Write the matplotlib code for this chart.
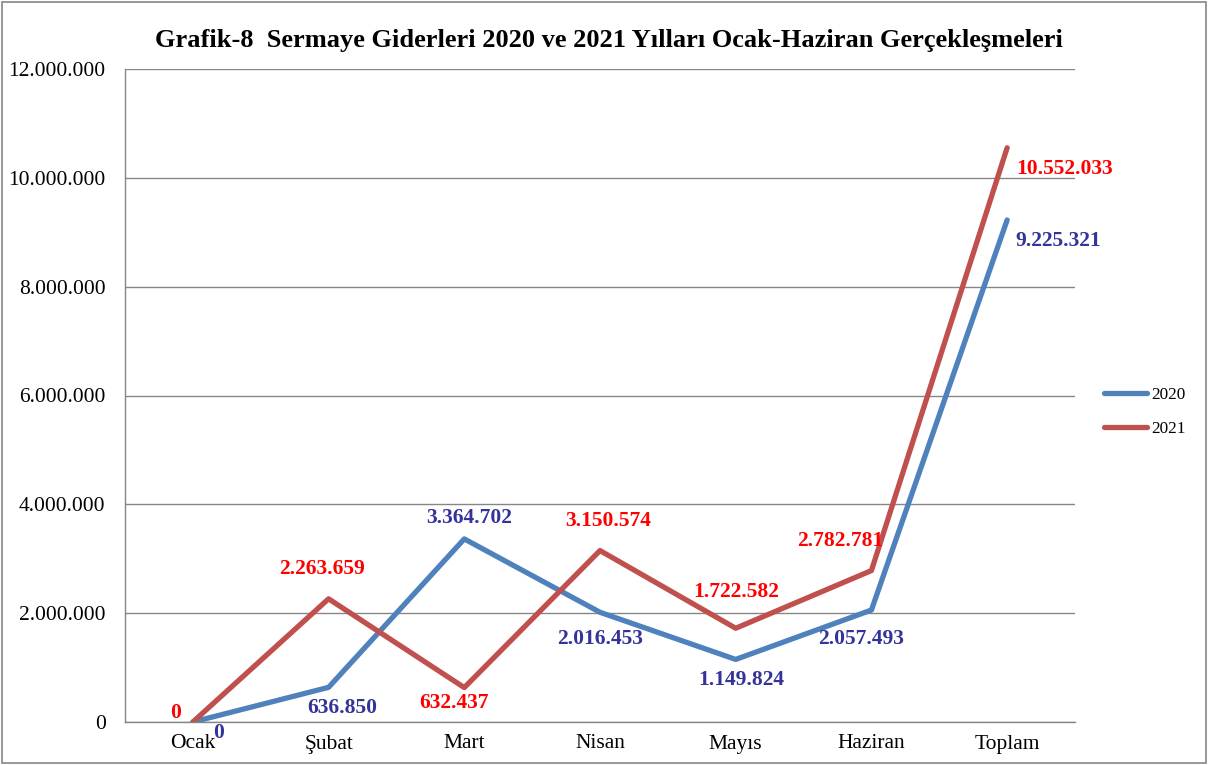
import numpy as np
import matplotlib.pyplot as plt
from matplotlib.ticker import FuncFormatter

# Data
months = ['Ocak', 'Şubat', 'Mart', 'Nisan', 'Mayıs', 'Haziran', 'Toplam']
values_2020 = [0, 636850, 3364702, 2016453, 1149824, 2057493, 9225321]
values_2021 = [0, 2263659, 632437, 3150574, 1722582, 2782781, 10552033]

# label offsets in pixels (dx, dy)
offsets_2020 = [(26, -11), (14, -21), (5, 21), (0, -27), (6, -21), (-10, -29), (51, -21)]
offsets_2021 = [(-17, 9), (-7, 30), (-10, -15), (8, 30), (0, 36), (-31, 30), (57, -21)]

def fmt(v):
    return f'{v:,.0f}'.replace(',', '.')

plt.rcParams['font.family'] = ['Liberation Serif', 'DejaVu Serif']

fig = plt.figure(figsize=(12.08, 7.65), dpi=100)
ax = fig.add_axes([125 / 1208, 1 - 722 / 765, 950 / 1208, 653 / 765])

x = np.arange(len(months))
ax.plot(x, values_2020, color='#4F81BD', lw=3.8, solid_capstyle='round', label='2020')
ax.plot(x, values_2021, color='#C0504D', lw=3.8, solid_capstyle='round', label='2021')

for i, v in enumerate(values_2020):
    ax.annotate(fmt(v), (i, v), xytext=offsets_2020[i], textcoords='offset pixels',
                ha='center', va='center', color='#333399', fontsize=15.5, fontweight='bold')
for i, v in enumerate(values_2021):
    ax.annotate(fmt(v), (i, v), xytext=offsets_2021[i], textcoords='offset pixels',
                ha='center', va='center', color='#FF0000', fontsize=15.5, fontweight='bold')

ax.set_xlim(-0.5, len(months) - 0.5)
ax.set_ylim(0, 12000000)
ax.set_yticks(np.arange(0, 12000001, 2000000))
ax.yaxis.set_major_formatter(FuncFormatter(lambda v, p: fmt(v)))
ax.set_xticks(x)
ax.set_xticklabels(months)
ax.tick_params(axis='both', labelsize=15.5, length=0)
ax.tick_params(axis='x', pad=9)
ax.tick_params(axis='y', pad=14)
ax.grid(axis='y', color='#868686', lw=1)
ax.set_axisbelow(True)
for s in ['top', 'right']:
    ax.spines[s].set_visible(False)
for s in ['left', 'bottom']:
    ax.spines[s].set_color('#868686')
    ax.spines[s].set_linewidth(1)

fig.suptitle('Grafik-8  Sermaye Giderleri 2020 ve 2021 Yılları Ocak-Haziran Gerçekleşmeleri',
             x=(152 + 1065) / 2 / 1208, y=1 - 41 / 765, va='center', fontsize=19, fontweight='bold')

fig.legend(loc='center left', bbox_to_anchor=(1088 / 1208, 1 - 412 / 765), frameon=False,
           fontsize=12.4, handlelength=2.5, labelspacing=1.0, handletextpad=0.3)

# figure border
fig.patches.append(plt.Rectangle((0.002, 0.003), 0.996, 0.994, transform=fig.transFigure,
                                 fill=False, edgecolor='#868686', lw=1.2))

fig.savefig('out.png', dpi=100)
